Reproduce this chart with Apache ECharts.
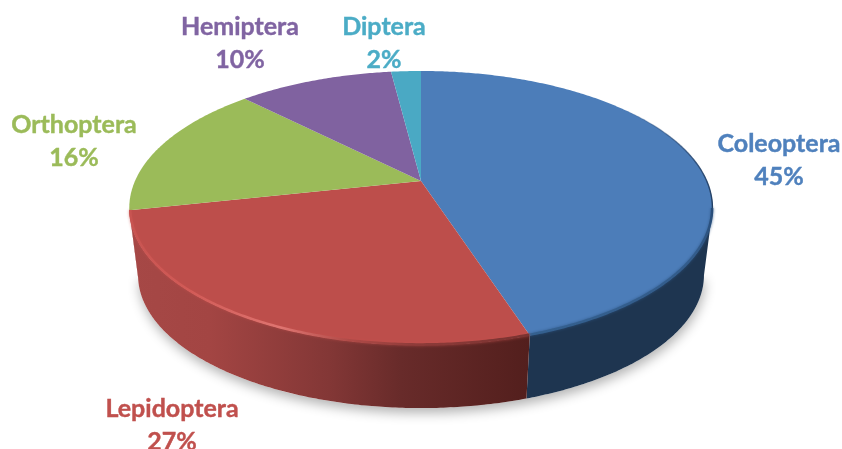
<!DOCTYPE html>
<html><head><meta charset="utf-8">
<style>html,body{margin:0;padding:0;background:#fff}#c{width:842px;height:449px}</style>
<script src="https://cdn.jsdelivr.net/npm/echarts@6/dist/echarts.min.js"></script>
</head><body><div id="c"></div>
<script>
var categories = ['Coleoptera','Lepidoptera','Orthoptera','Hemiptera','Diptera'];
var shares = [45,26.6,16,10.4,2];
var colors = ['#4C7DB9','#BD4E4B','#9BBB59','#8062A0','#4AA9C4'];
var textColors = ['#4F81BD','#C0504D','#9BBB59','#8064A2','#4BACC6'];
// label centres (layout only)
var labelX = [779,172,74,240,384];
var labelY = [160,425,141,43,43];

// Perspective geometry of the disc
var G = {cx:421, top:181, A:286, B:131.7, k:0.197, drop:68, shrink:0.97};
var total = shares.reduce(function(a,b){return a+b;},0);
var rightEdge = Math.acos(-G.k), leftEdge = 2*Math.PI-rightEdge;

function pt(t,r,lower){
  r = r==null?1:r;
  var s=Math.sin(t)*r, c=Math.cos(t)*r, d=1+G.k*c, f=lower?G.shrink:1;
  return [G.cx+f*G.A*s/d, G.top+(lower?G.drop:0)-f*G.B*c/d];
}
function arc(a,b,r,lower){
  var n=Math.max(2,Math.ceil(Math.abs(b-a)/0.01)),out=[];
  for(var i=0;i<=n;i++) out.push(pt(a+(b-a)*i/n,r,lower));
  return out;
}
function grad(x0,y0,x1,y1,stops){
  return new echarts.graphic.LinearGradient(x0,y0,x1,y1,stops.map(function(s){return {offset:s[0],color:s[1]};}),true);
}
function poly(points,style,z2){return {type:'polygon',shape:{points:points},style:style,z2:z2||0,silent:true};}
function line(points,style,z2){return {type:'polyline',shape:{points:points},style:Object.assign({fill:null,lineCap:'butt'},style),z2:z2||0,silent:true};}

var redSide = grad(130,0,528,0,[[0,'#A64846'],[0.2,'#A34543'],[0.5,'#833736'],[0.68,'#682B2A'],[1,'#531F1D']]);
var redRim = grad(130,0,528,0,[[0,'#C85451'],[0.15,'#D25B57'],[0.38,'#DF7571'],[0.55,'#B04A47'],[0.72,'#8E3B39'],[1,'#7A3331']]);
var blueRim = grad(528,330,713,200,[[0,'#34608F'],[0.8,'#335C8B'],[1,'#264A75']]);
var blueEdge = grad(620,110,713,215,[[0,'rgba(40,70,110,0)'],[0.6,'rgba(40,70,110,.8)'],[1,'rgba(31,58,92,1)']]);

function renderSlice(params,api){
  var i=params.dataIndex, v=api.value(0), start=0;
  for(var j=0;j<i;j++) start+=shares[j];
  var a=start/total*2*Math.PI, b=(start+v)/total*2*Math.PI;
  var kids=[];
  // extruded wall, only the part facing the viewer
  var wa=Math.max(a,rightEdge), wb=Math.min(b,leftEdge);
  if(wb>wa){
    var wall=arc(wa,wb,1,false).concat(arc(wb,wa,1,true));
    kids.push(poly(wall,{fill:i===0?'#1E3550':redSide},1));
  }
  // top face
  var face=[pt(0,0)].concat(arc(a,b,1,false));
  kids.push(poly(face,{fill:colors[i]},2));
  // bevel along the rim
  if(i===0){
    kids.push(line(arc(0.85,rightEdge,0.999,false),{stroke:blueEdge,lineWidth:1.4},3));
    kids.push(line(arc(rightEdge,b,0.998,false),{stroke:blueRim,lineWidth:2.5,shadowBlur:3,shadowColor:'rgba(45,85,133,.8)'},3));
  }
  if(i===1) kids.push(line(arc(a,b,0.997,false),{stroke:redRim,lineWidth:2.5,shadowBlur:3,shadowColor:'rgba(200,80,76,.6)'},3));
  kids.push({type:'text',silent:true,z2:5,x:labelX[i],y:labelY[i],style:{
    text:categories[i]+'\n'+Math.round(v)+'%',fill:textColors[i],stroke:textColors[i],lineWidth:0.4,
    font:'bold 25px Lato',align:'center',verticalAlign:'middle',lineHeight:33}});
  return {type:'group',children:kids};
}
function renderShadow(){
  return poly(arc(rightEdge,leftEdge,1,true),{fill:'#fff',shadowBlur:12,shadowOffsetY:5,shadowOffsetX:1,shadowColor:'rgba(0,0,0,.3)'},0);
}
var chart=echarts.init(document.getElementById('c'),null,{renderer:'canvas'});
chart.setOption({
  animation:false,
  backgroundColor:'#fff',
  series:[
    {type:'custom',coordinateSystem:'none',z:1,renderItem:renderShadow,data:[[total]],silent:true},
    {type:'custom',coordinateSystem:'none',z:2,renderItem:renderSlice,silent:true,
     data:shares.map(function(v){return [v];})}
  ]
});
</script></body></html>
